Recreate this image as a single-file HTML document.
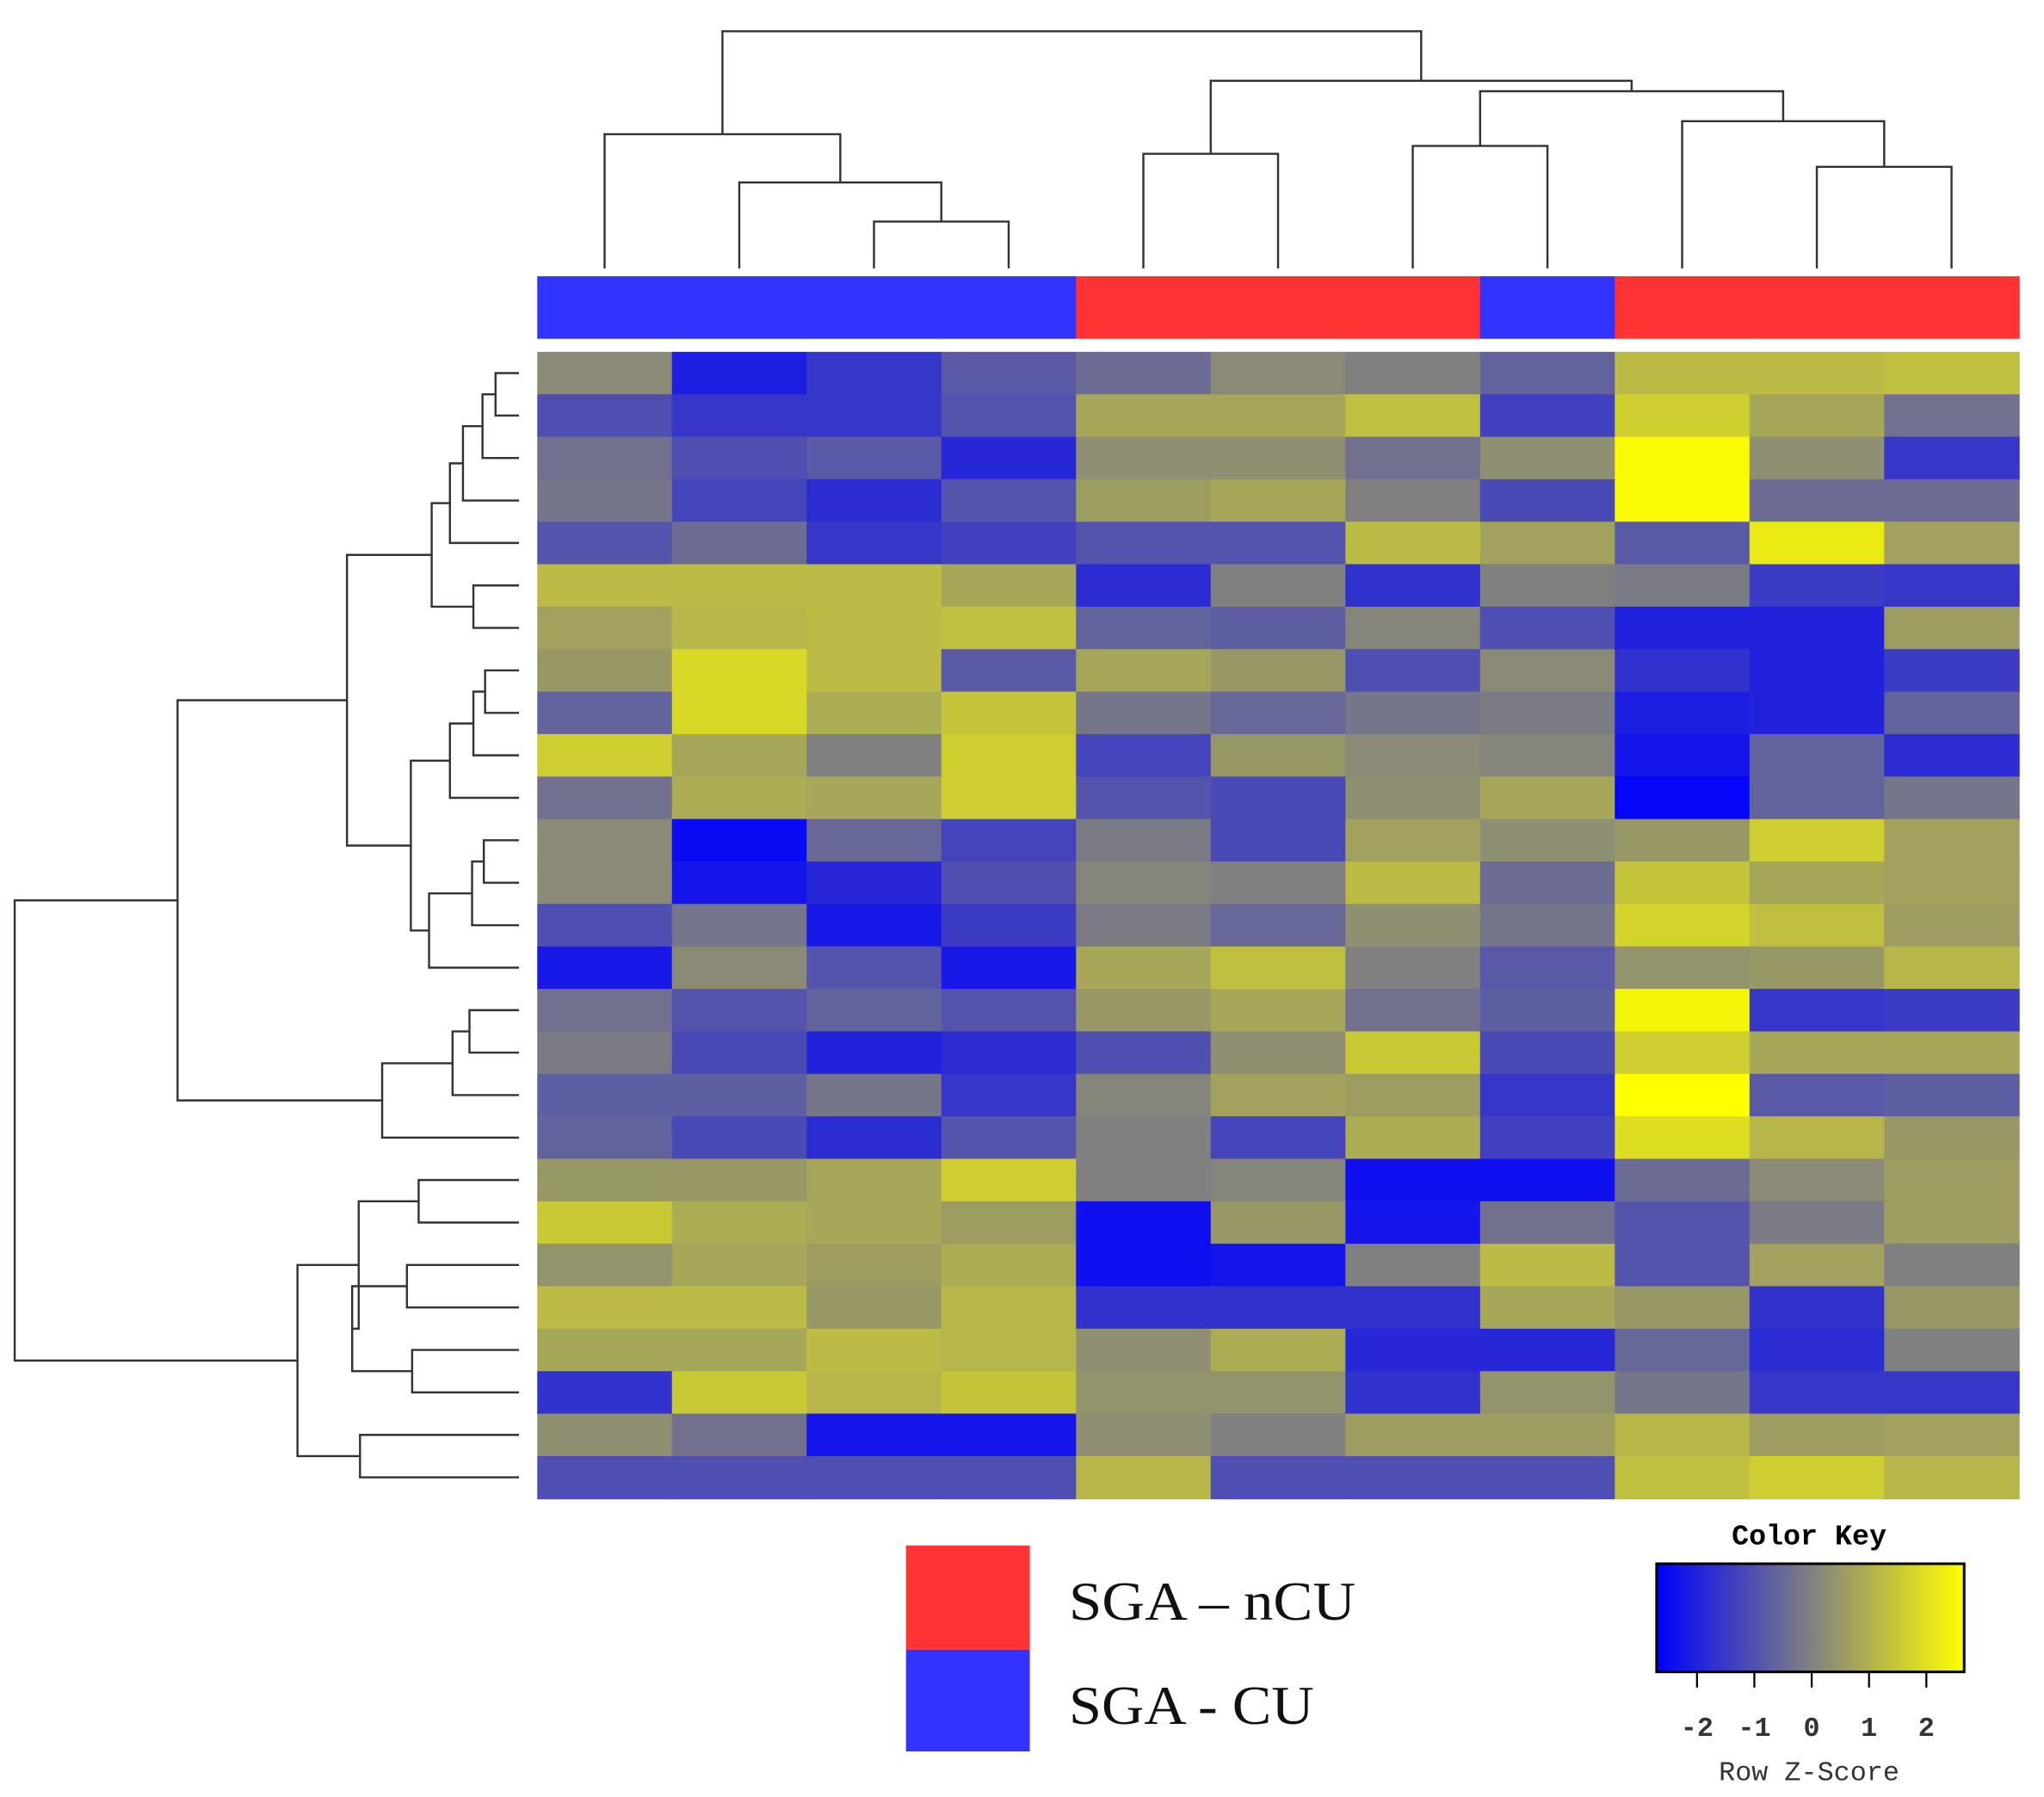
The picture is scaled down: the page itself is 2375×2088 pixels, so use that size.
<!DOCTYPE html>
<html><head><meta charset="utf-8"><style>html,body{margin:0;padding:0;background:#fff}svg{display:block}</style></head>
<body>
<svg id="s" xmlns="http://www.w3.org/2000/svg" width="2375" height="2088" viewBox="0 0 1568 1379">
<rect width="1600" height="1400" fill="#fff"/>
<g id="hm"></g>
<g id="dg" fill="none" stroke="#333" stroke-width="1.6"></g>
<rect x="695" y="1186" width="95" height="80" fill="#ff3333"/>
<rect x="695" y="1266" width="95" height="78" fill="#3333ff"/>
<text x="820" y="1243" font-family="Liberation Serif, serif" font-size="42" fill="#111" textLength="220" lengthAdjust="spacingAndGlyphs">SGA – nCU</text>
<text x="820" y="1323" font-family="Liberation Serif, serif" font-size="42" fill="#111" textLength="188" lengthAdjust="spacingAndGlyphs">SGA - CU</text>
<defs><linearGradient id="g"><stop offset="0" stop-color="#0000ff"/><stop offset="0.5" stop-color="#808080"/><stop offset="1" stop-color="#ffff00"/></linearGradient></defs>
<text x="1388" y="1185" text-anchor="middle" font-family="Liberation Mono, monospace" font-weight="bold" font-size="22">Color Key</text>
<rect x="1271" y="1200" width="236" height="83" fill="url(#g)" stroke="#000" stroke-width="2"/>
<g stroke="#000" stroke-width="1.5">
<line x1="1302" y1="1283" x2="1302" y2="1295"/><line x1="1346" y1="1283" x2="1346" y2="1295"/><line x1="1390" y1="1283" x2="1390" y2="1295"/><line x1="1434" y1="1283" x2="1434" y2="1295"/><line x1="1478" y1="1283" x2="1478" y2="1295"/>
</g>
<g font-family="Liberation Mono, monospace" font-size="21" font-weight="bold" text-anchor="middle" fill="#333">
<text x="1302" y="1332">-2</text><text x="1346" y="1332">-1</text><text x="1390" y="1332">0</text><text x="1434" y="1332">1</text><text x="1478" y="1332">2</text>
<text x="1388" y="1366" font-weight="normal">Row Z-Score</text>
</g>
</svg>
<script>
var Z=[
[0.2,-2,-1.5,-0.8,-0.4,0.2,0,-0.6,1.2,1.2,1.3],
[-1,-1.5,-1.5,-0.9,0.8,0.8,1.3,-1.3,1.6,0.8,-0.3],
[-0.3,-1,-0.8,-1.8,0.3,0.3,-0.3,0.3,2.5,0.3,-1.5],
[-0.2,-1.2,-1.7,-0.9,0.6,0.8,0,-1.1,2.5,-0.4,-0.4],
[-0.9,-0.4,-1.5,-1.3,-0.9,-0.9,1.2,0.7,-0.8,2.2,0.7],
[1.2,1.2,1.2,0.8,-1.7,0,-1.6,0,-0.1,-1.4,-1.5],
[0.7,1.1,1.2,1.3,-0.6,-0.7,0.1,-1,-1.9,-1.9,0.6],
[0.5,1.8,1.2,-0.8,0.8,0.5,-1,0.2,-1.6,-1.9,-1.4],
[-0.6,1.8,0.9,1.4,-0.2,-0.5,-0.2,-0.1,-2,-1.9,-0.6],
[1.6,0.8,0,1.6,-1.2,0.5,0.2,0.1,-2.2,-0.6,-1.7],
[-0.3,0.9,0.8,1.6,-0.9,-1.1,0.3,0.8,-2.5,-0.6,-0.2],
[0.2,-2.4,-0.5,-1.2,-0.1,-1.1,0.7,0.3,0.5,1.6,0.7],
[0.2,-2.2,-1.8,-1,0.1,0,1.2,-0.4,1.4,0.8,0.7],
[-1,-0.2,-2.1,-1.4,-0.1,-0.5,0.3,-0.2,1.7,1.3,0.6],
[-2.1,0.2,-0.9,-2.1,0.8,1.3,0,-0.8,0.4,0.5,1.1],
[-0.3,-0.9,-0.6,-0.9,0.5,0.8,-0.3,-0.7,2.4,-1.5,-1.4],
[-0.1,-1.1,-1.9,-1.7,-1,0.3,1.5,-1.1,1.6,0.8,0.8],
[-0.7,-0.7,-0.2,-1.5,0.1,0.7,0.6,-1.5,2.6,-0.8,-0.7],
[-0.6,-1.1,-1.7,-0.9,0,-1.2,0.9,-1.3,1.9,1.1,0.5],
[0.5,0.5,0.8,1.6,0,0.1,-2.3,-2.3,-0.4,0.2,0.6],
[1.5,0.9,0.8,0.6,-2.3,0.5,-2.2,-0.3,-0.9,-0.1,0.6],
[0.4,0.8,0.6,0.9,-2.3,-2.2,0,1.2,-0.9,0.7,0],
[1.2,1.2,0.5,1.1,-1.6,-1.6,-1.6,0.8,0.5,-1.6,0.5],
[0.8,0.8,1.2,1.1,0.3,0.9,-1.8,-1.8,-0.5,-1.7,0],
[-1.6,1.5,1.1,1.4,0.4,0.4,-1.6,0.4,-0.2,-1.5,-1.5],
[0.3,-0.3,-2.2,-2.2,0.3,0,0.6,0.6,1.1,0.6,0.7],
[-1,-1,-1,-1,1.1,-1,-1,-1,1.3,1.6,1.1]];
function col(z){var t=Math.max(-1,Math.min(1,z/2.6));var r,g,b;
if(t<0){var a=-t;r=128*(1-a);g=128*(1-a);b=128+127*a;}else{r=128+127*t;g=128+127*t;b=128*(1-t);}
return 'rgb('+Math.round(r)+','+Math.round(g)+','+Math.round(b)+')';}
var h='',X0=412,W=1137/11,Y0=270,H=880/27;
var bar=['#3333ff','#3333ff','#3333ff','#3333ff','#ff3333','#ff3333','#ff3333','#3333ff','#ff3333','#ff3333','#ff3333'];
for(var i=0;i<11;i++)h+='<rect x="'+(X0+i*W)+'" y="212" width="'+(W+0.6)+'" height="48" fill="'+bar[i]+'"/>';
for(var j=0;j<27;j++)for(var i=0;i<11;i++)h+='<rect x="'+(X0+i*W)+'" y="'+(Y0+j*H)+'" width="'+(W+0.6)+'" height="'+(H+0.6)+'" fill="'+col(Z[j][i])+'"/>';
document.getElementById('hm').innerHTML=h;
var d='';
function cx(i){return X0+W*(i+0.5);}
function ry(j){return Y0+H*(j+0.5);}
function tj(a,b,y){d+='M'+a.p+' '+a.h+'V'+y+'H'+b.p+'V'+b.h;return {p:(a.p+b.p)/2,h:y};}
function L(i){return {p:cx(i),h:206};}
var a=tj(L(2),L(3),170),b=tj(L(1),a,140),c=tj(L(0),b,103);
var e=tj(L(4),L(5),118),f=tj(L(6),L(7),112),g=tj(L(9),L(10),128),k=tj(L(8),g,93),m=tj(f,k,70),n=tj(e,m,62);
tj(c,n,24);
function lj(a,b,x){d+='M'+a.h+' '+a.p+'H'+x+'V'+b.p+'H'+b.h;return {p:(a.p+b.p)/2,h:x};}
function R(j){return {p:ry(j),h:398};}
var A=lj(R(0),R(1),380),B=lj(A,R(2),370),C=lj(B,R(3),355),D=lj(C,R(4),345),E=lj(R(5),R(6),363),F=lj(D,E,331);
var G=lj(R(7),R(8),372),Hh=lj(G,R(9),363),I=lj(Hh,R(10),345),J=lj(R(11),R(12),371),K=lj(J,R(13),362),Ll=lj(K,R(14),329);
var M=lj(I,Ll,315),N=lj(F,M,266),O=lj(R(15),R(16),360),P=lj(O,R(17),347),Q=lj(P,R(18),293),RR=lj(N,Q,136);
var S=lj(R(19),R(20),321),T=lj(R(21),R(22),312),U=lj(R(23),R(24),316),Wn=lj(T,U,270),Xn=lj(S,Wn,275),Y=lj(R(25),R(26),276),Zn=lj(Xn,Y,228);
lj(RR,Zn,11);
document.getElementById('dg').innerHTML='<path d="'+d+'"/>';
</script>
</body></html>
